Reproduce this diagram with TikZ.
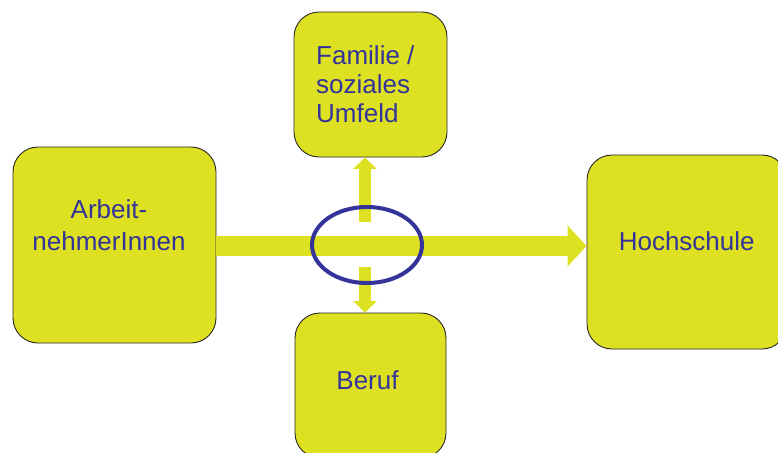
\documentclass[tikz,border=0pt]{standalone}
\usepackage{fontspec}
\setmainfont{Liberation Sans}
\usetikzlibrary{arrows.meta}
\definecolor{ylw}{RGB}{222,224,34}
\definecolor{txtblue}{RGB}{51,51,153}
\definecolor{ellblue}{RGB}{51,51,153}
\tikzset{
  box/.style={draw=black!85, line width=0.9pt, fill=ylw, rounded corners=25pt, inner sep=0pt},
  txt/.style={text=txtblue, inner sep=0pt, font=\fontsize{26}{30}\selectfont},
  bigarrow/.style={draw=ylw, line width=20pt, -{Triangle[width=40pt,length=19pt]}},
  smallarrow/.style={draw=ylw, line width=12pt, -{Triangle[width=23pt,length=11.5pt]}},
}
\begin{document}
\begin{tikzpicture}[x=1pt,y=-1pt]
\useasboundingbox (0,0) rectangle (778,452);
\clip (0,0) rectangle (778,452);
% boxes
\node[box, minimum width=203pt, minimum height=196pt] (arb) at (114.5,245) {};
\node[box, minimum width=153pt, minimum height=145pt] (fam) at (370.5,84.5) {};
\node[box, minimum width=151pt, minimum height=145pt] (ber) at (370.5,385.5) {};
\node[box, minimum width=200pt, minimum height=194pt] (hoch) at (687,252) {};
% texts
\node[txt, align=center, font=\fontsize{26}{31.7}\selectfont] (arbt) at (109,225.5) {Arbeit-\\nehmerInnen};
\node[txt, align=left, anchor=west, font=\fontsize{26}{29}\selectfont] (famt) at (316,84.5) {Familie /\\soziales\\Umfeld};
\node[txt] (bert) at (367.5,380) {Beruf};
\node[txt] (hocht) at (686.7,241.5) {Hochschule};
% connectors
\coordinate (hstart) at (arb.east |- 0,246);
\coordinate (hend) at (hoch.west |- 0,246);
\draw[bigarrow] (hstart) -- (hend);
\coordinate (upstart) at (365,222);
\coordinate (dnstart) at (365,267);
\draw[smallarrow] (upstart) -- (fam.south -| upstart);
\draw[smallarrow] (dnstart) -- (ber.north -| dnstart);
% ellipse
\draw[ellblue, line width=4pt] (367,245) ellipse [x radius=55pt, y radius=38pt];
\end{tikzpicture}
\end{document}
